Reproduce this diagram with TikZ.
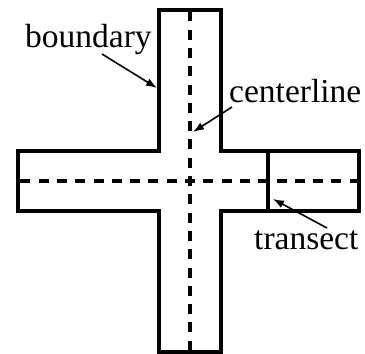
\documentclass[tikz,border=0pt]{standalone}
\usepackage{fontspec}
\setmainfont{Liberation Serif}
\usetikzlibrary{arrows.meta}
\begin{document}
\begin{tikzpicture}[x=1pt,y=-1pt,
  outline/.style={line width=3.3pt,line join=miter},
  axisline/.style={line width=3.1pt,dash pattern=on 10pt off 8.3pt,dash phase=5pt},
  label/.style={inner sep=0pt,font=\fontsize{33.5}{40}\selectfont},
  pointer/.style={line width=1.6pt,-{Latex[length=11pt,width=8pt]}}]
\useasboundingbox (0,0) rectangle (365,354);
% cross-shaped boundary
\draw[outline] (159,10) -- (221,10) -- (221,151) -- (359,151) -- (359,211)
  -- (221,211) -- (221,352) -- (159,352) -- (159,211) -- (18,211)
  -- (18,151) -- (159,151) -- cycle;
% centerlines, dashed outward from the crossing
\coordinate (mid) at (190,181);
\draw[axisline] (mid) -- (190,10);
\draw[axisline] (mid) -- (190,352);
\draw[axisline] (mid) -- (18,181);
\draw[axisline] (mid) -- (359,181);
% transect
\draw[outline] (268,151) -- (268,211);
% labels and pointers
\node[label,anchor=base west] (bnd) at (25,47) {boundary};
\node[label,anchor=base west] (ctr) at (229,102) {centerline};
\node[label,anchor=base west] (trn) at (254,249) {transect};
\coordinate (bndtip) at (157,88);
\coordinate (ctrtip) at (193,132);
\coordinate (trntip) at (273,199);
\draw[pointer] (102,54) -- (bndtip);
\draw[pointer] (232,107) -- (ctrtip);
\draw[pointer] (327,228) -- (trntip);
\end{tikzpicture}
\end{document}
